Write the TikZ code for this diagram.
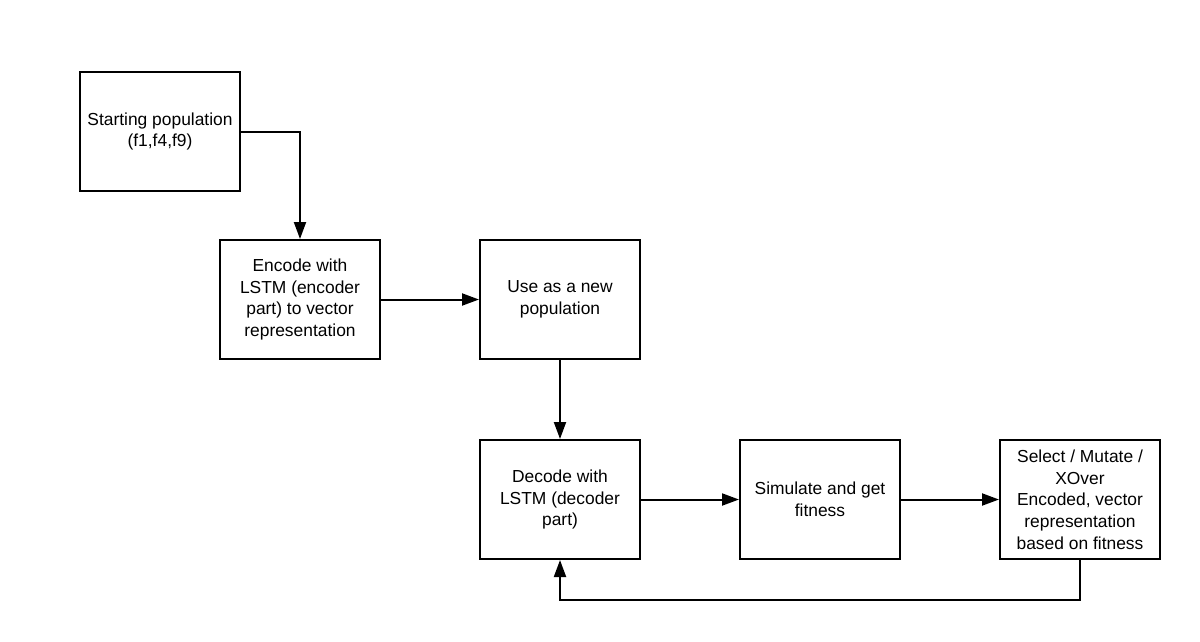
\documentclass[tikz,border=0pt]{standalone}
\usepackage{fontspec}
\setmainfont{Liberation Sans}
\usetikzlibrary{arrows.meta}
\begin{document}
\begin{tikzpicture}[x=1pt,y=-1pt,
  box/.style={draw=black,line width=2pt,minimum width=160pt,minimum height=119pt,inner sep=0pt,align=center,
    font=\fontsize{17.4}{21.7}\selectfont},
  conn/.style={line width=2pt,-{Triangle[length=17pt,width=12pt]}}]
\useasboundingbox[fill=white] (0,0) rectangle (1200,641);
\node[box] (start) at (160,131.5) {Starting population\\(f1,f4,f9)};
\node[box] (enc) at (300,299.5) {Encode with\\LSTM (encoder\\part) to vector\\representation};
\node[box] (use) at (560,299.5) {Use as a new\\population};
\node[box] (dec) at (560,499.5) {Decode with\\LSTM (decoder\\part)};
\node[box] (sim) at (820,499.5) {Simulate and get\\fitness};
\node[box] (sel) at (1080,499.5) {Select / Mutate /\\XOver\\Encoded, vector\\representation\\based on fitness};
\draw[conn] (start.east) -| (enc.north);
\draw[conn] (enc.east) -- (use.west);
\draw[conn] (use.south) -- (dec.north);
\draw[conn] (dec.east) -- (sim.west);
\draw[conn] (sim.east) -- (sel.west);
\coordinate (loopR) at (1080,600);
\coordinate (loopL) at (560,600);
\draw[conn] (sel.south) -- (loopR) -- (loopL) -- (dec.south);
\end{tikzpicture}
\end{document}
